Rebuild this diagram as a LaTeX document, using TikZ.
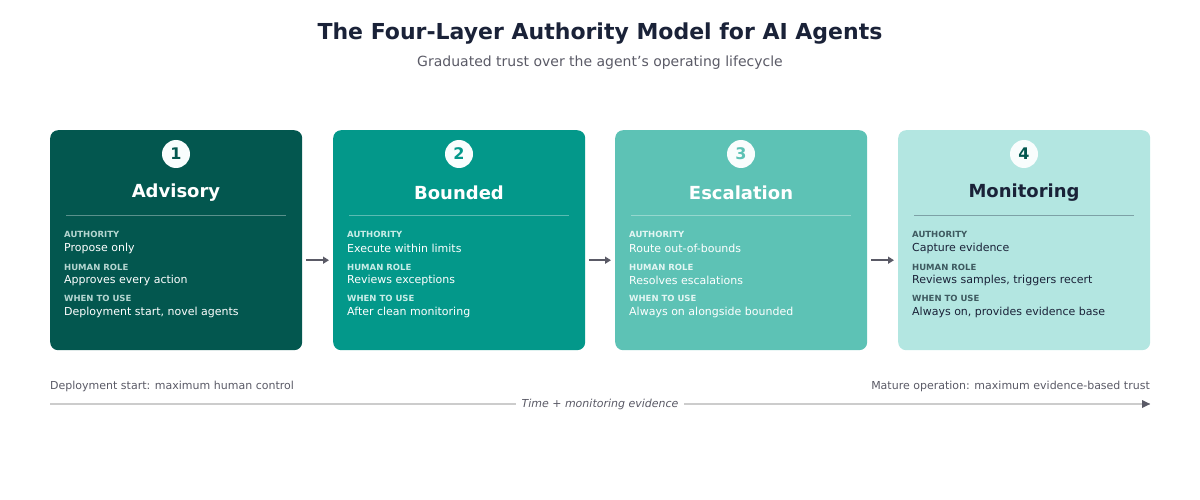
\documentclass[tikz,border=0pt]{standalone}
\usepackage{fontspec}
\setmainfont{DejaVu Sans}
\usetikzlibrary{arrows.meta}
\definecolor{ink}{HTML}{1A2238}
\definecolor{gry}{HTML}{5A5A66}
\definecolor{cA}{HTML}{03574F}
\definecolor{cB}{HTML}{03988A}
\definecolor{cC}{HTML}{5DC2B5}
\definecolor{cD}{HTML}{B3E6E1}
\definecolor{lA}{HTML}{B5D6D1}
\definecolor{lB}{HTML}{C8EDE8}
\definecolor{lC}{HTML}{E3F6F3}
\definecolor{lD}{HTML}{3E5A60}
\tikzset{
 card/.style={rounded corners=8pt,inner sep=0pt,minimum width=252pt,minimum height=220pt,draw=none},
 num/.style={circle,fill=white!92!cD,minimum size=28pt,inner sep=0pt,font=\fontsize{16}{16}\bfseries\selectfont},
 ttl/.style={font=\fontsize{18}{18}\bfseries\selectfont},
 lab/.style={anchor=west,inner sep=0pt,font=\fontsize{8.5}{9}\bfseries\selectfont},
 val/.style={anchor=west,inner sep=0pt,font=\fontsize{11}{12}\selectfont},
 flow/.style={draw=gry,line width=1.5pt,-{Triangle[length=6pt,width=7pt]}},
}
\begin{document}
\begin{tikzpicture}[x=1pt,y=-1pt]
\useasboundingbox (0,0) rectangle (1200,500);
\node[font=\fontsize{22}{22}\bfseries\selectfont,text=ink] (title) at (600,34) {The Four-Layer Authority Model for AI Agents};
\node[font=\fontsize{14}{14}\selectfont,text=gry] (sub) at (600,63) {Graduated trust over the agent's operating lifecycle};
\foreach \i/\x/\fc/\tc/\lc/\nc/\name/\a/\h/\w in {
 1/50/cA/white/lA/cA/Advisory/Propose only/Approves every action/{Deployment start, novel agents},
 2/333/cB/white/lB/cB/Bounded/Execute within limits/Reviews exceptions/After clean monitoring,
 3/615/cC/white/lC/cC/Escalation/Route out-of-bounds/Resolves escalations/Always on alongside bounded,
 4/898/cD/ink/lD/cA/Monitoring/Capture evidence/{Reviews samples, triggers recert}/{Always on, provides evidence base}}{
 \node[card,fill=\fc,anchor=north west] (card\i) at (\x,130) {};
 \node[num,text=\nc] (n\i) at (\x+126,154) {\i};
 \node[ttl,text=\tc] (t\i) at (\x+126,193) {\name};
 \draw[draw=\tc,opacity=0.35,line width=1pt] (\x+16,215) -- (\x+236,215);
 \node[lab,text=\lc] (la\i) at (\x+14,234) {AUTHORITY};
 \node[val,text=\tc] (va\i) at (\x+14,248) {\a};
 \node[lab,text=\lc] (lh\i) at (\x+14,267) {HUMAN ROLE};
 \node[val,text=\tc] (vh\i) at (\x+14,280) {\h};
 \node[lab,text=\lc] (lw\i) at (\x+14,298) {WHEN TO USE};
 \node[val,text=\tc] (vw\i) at (\x+14,312) {\w};
}
\foreach \a/\b in {1/2,2/3,3/4}{
 \draw[flow] ([xshift=4pt,yshift=-20pt]card\a.east) -- ([xshift=-4pt,yshift=-20pt]card\b.west);
}
\node[font=\fontsize{11}{11}\selectfont,text=gry,anchor=west,inner sep=0pt] (ls) at (50,386) {Deployment start: maximum human control};
\node[font=\fontsize{11}{11}\selectfont,text=gry,anchor=east,inner sep=0pt] (rs) at (1150,386) {Mature operation: maximum evidence-based trust};
\coordinate (t0) at (50,404);
\coordinate (t1) at (1150,404);
\draw[draw=gray!40,line width=1.2pt] (t0) -- (t1);
\draw[fill=gry,draw=none] (1150,404) -- (1142,400) -- (1142,408) -- cycle;
\node[fill=white,font=\fontsize{11}{11}\itshape\selectfont,text=gry,inner xsep=6pt] (tl) at (600,404) {Time + monitoring evidence};
\end{tikzpicture}
\end{document}
